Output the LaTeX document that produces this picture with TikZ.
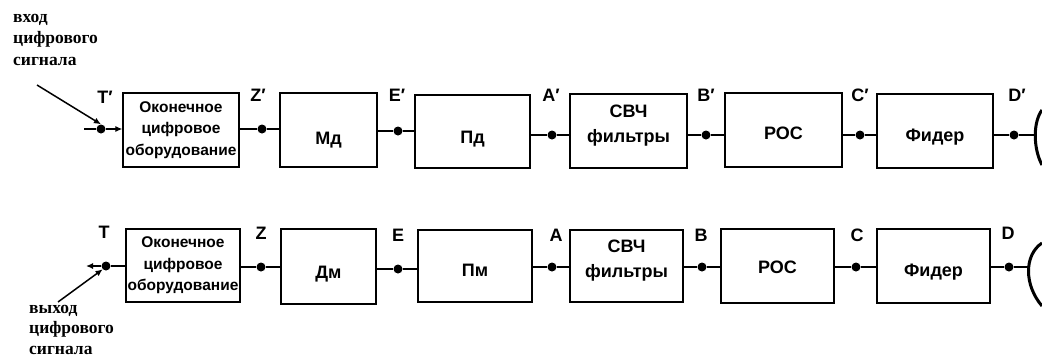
\documentclass[tikz,border=0pt]{standalone}
\usepackage{fontspec}
\setmainfont{Liberation Sans}
\newfontfamily\notefont{Liberation Serif}
\usetikzlibrary{arrows.meta,positioning,calc}
\tikzset{
  blockbox/.style={draw, line width=1.2pt, align=center, inner sep=0pt, font=\fontsize{18}{25}\selectfont\bfseries},
  termbox/.style={blockbox, font=\fontsize{15.5}{21.5}\selectfont\bfseries},
  point/.style={circle, fill=black, inner sep=0pt, minimum size=9pt},
  pointlabel/.style={inner sep=0pt, font=\fontsize{18}{20}\selectfont\bfseries},
  note/.style={align=left, anchor=north west, inner sep=0pt, font=\fontsize{17.5}{21.5}\notefont\bfseries},
  wire/.style={line width=1.5pt},
  arrow/.style={-{Latex[length=2.5mm,width=2.2mm]}, line width=1.5pt},
  dish/.style={line width=3pt}
}
\begin{document}
\begin{tikzpicture}[x=1pt, y=-1pt]
  \useasboundingbox (0,0) rectangle (1042,360);
  % top row
  \node[termbox, minimum width=116pt, minimum height=74pt] (O1) at (181,130) {Оконечное\\цифровое\\оборудование};
  \node[blockbox, minimum width=97pt, minimum height=74pt, text height=32pt] (M1) at (328.5,130) {Мд};
  \node[blockbox, minimum width=115pt, minimum height=73pt, text height=28pt] (P1) at (472.5,131.5) {Пд};
  \node[blockbox, minimum width=117pt, minimum height=74pt, text depth=15pt] (S1) at (628.5,131) {СВЧ\\фильтры};
  \node[blockbox, minimum width=117pt, minimum height=74pt, text height=20pt] (R1) at (783.5,130) {РОС};
  \node[blockbox, minimum width=116pt, minimum height=74pt, text height=25pt] (F1) at (935,131) {Фидер};
  % bottom row
  \node[termbox, minimum width=114pt, minimum height=73pt] (O2) at (183,265.5) {Оконечное\\цифровое\\оборудование};
  \node[blockbox, minimum width=95pt, minimum height=75pt, text height=28pt] (M2) at (328.5,266.5) {Дм};
  \node[blockbox, minimum width=114pt, minimum height=72pt, text height=20pt] (P2) at (475,266) {Пм};
  \node[blockbox, minimum width=113pt, minimum height=72pt, text depth=15pt] (S2) at (626.5,266) {СВЧ\\фильтры};
  \node[blockbox, minimum width=113pt, minimum height=74pt, text height=15pt] (R2) at (777.5,266) {РОС};
  \node[blockbox, minimum width=113pt, minimum height=74pt, text height=25pt] (F2) at (933.5,266) {Фидер};
  % points
  \node[point] (T1) at (101,129) {};
  \node[point] (Z1) at (262,129) {};
  \node[point] (E1) at (398,131) {};
  \node[point] (A1) at (552,135) {};
  \node[point] (B1) at (706,135) {};
  \node[point] (C1) at (860,135) {};
  \node[point] (D1) at (1014,135) {};
  \node[point] (T2) at (106,266) {};
  \node[point] (Z2) at (261,267) {};
  \node[point] (E2) at (398,269) {};
  \node[point] (A2) at (552,267) {};
  \node[point] (B2) at (702,267) {};
  \node[point] (C2) at (856,267) {};
  \node[point] (D2) at (1009,267) {};
  % labels
  \node[pointlabel] (LT1) at (105,97) {T′};
  \node[pointlabel] (LZ1) at (258,95) {Z′};
  \node[pointlabel] (LE1) at (397,95) {E′};
  \node[pointlabel] (LA1) at (551,95) {A′};
  \node[pointlabel] (LB1) at (706,95) {B′};
  \node[pointlabel] (LC1) at (860,95) {C′};
  \node[pointlabel] (LD1) at (1017,95) {D′};
  \node[pointlabel] (LT2) at (104,232) {T};
  \node[pointlabel] (LZ2) at (261,233) {Z};
  \node[pointlabel] (LE2) at (398,235) {E};
  \node[pointlabel] (LA2) at (556,235) {A};
  \node[pointlabel] (LB2) at (701,235) {B};
  \node[pointlabel] (LC2) at (857,235) {C};
  \node[pointlabel] (LD2) at (1008,233) {D};
  % notes
  \node[note] (IN) at (13,14) {вход\\цифрового\\сигнала};
  \node[note, font=\fontsize{17.5}{20.5}\notefont\bfseries] (OUT) at (29,305) {выход\\цифрового\\сигнала};
  \coordinate (INs) at (37,85);
  \coordinate (OUTs) at (58,302);
  \coordinate (Tin) at (84,129);
  \coordinate (Tout) at (86,266);
  \coordinate (D1end) at (1035,135);
  \coordinate (D2end) at (1028,267);
  % connectors
  \draw[arrow] (INs) -- (T1.north);
  \draw[arrow] (OUTs) -- (T2.south west);
  \draw[wire] (Tin) -- (T1);
  \draw[arrow] (T1) -- (T1 -| O1.west);
  \draw[wire] (O1.east |- Z1) -- (Z1) -- (M1.west |- Z1);
  \draw[wire] (M1.east |- E1) -- (E1) -- (P1.west |- E1);
  \draw[wire] (P1.east |- A1) -- (A1) -- (S1.west |- A1);
  \draw[wire] (S1.east |- B1) -- (B1) -- (R1.west |- B1);
  \draw[wire] (R1.east |- C1) -- (C1) -- (F1.west |- C1);
  \draw[wire] (F1.east |- D1) -- (D1) -- (D1end);
  \draw[arrow] (T2) -- (Tout);
  \draw[wire] (O2.west |- T2) -- (T2);
  \draw[wire] (O2.east |- Z2) -- (Z2) -- (M2.west |- Z2);
  \draw[wire] (M2.east |- E2) -- (E2) -- (P2.west |- E2);
  \draw[wire] (P2.east |- A2) -- (A2) -- (S2.west |- A2);
  \draw[wire] (S2.east |- B2) -- (B2) -- (R2.west |- B2);
  \draw[wire] (R2.east |- C2) -- (C2) -- (F2.west |- C2);
  \draw[wire] (F2.east |- D2) -- (D2) -- (D2end);
  % antennas
  \draw[dish] (1042,110) .. controls (1033,122) and (1033,148) .. (1042,165);
  \draw[dish] (1042,243) .. controls (1024,255) and (1024,285) .. (1042,306);
\end{tikzpicture}
\end{document}
